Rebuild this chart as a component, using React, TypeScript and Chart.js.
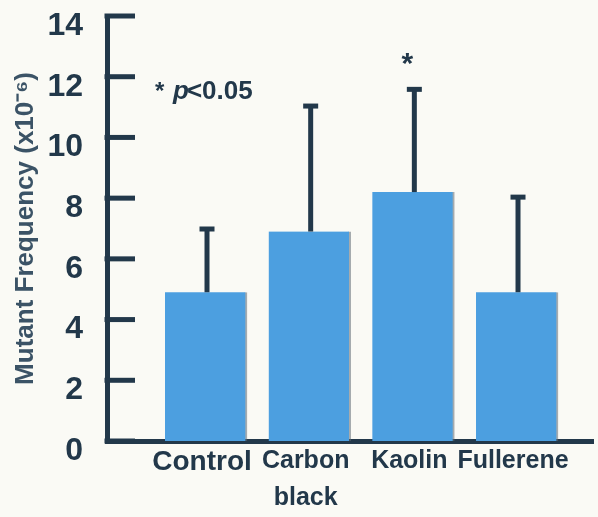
import React, { useEffect, useRef } from "react";
import { Chart, registerables } from "chart.js";

Chart.register(...registerables);

// ---- data ----
const categories = ["Control", "Carbon black", "Kaolin", "Fullerene"];
const tickLabelLines = [["Control"], ["Carbon", "black"], ["Kaolin"], ["Fullerene"]];
const meanValues = [4.9, 6.9, 8.2, 4.9];
const sdValues = [2.1, 4.15, 3.4, 3.15];
const significant = [false, false, true, false];
const yTicks = [0, 2, 4, 6, 8, 10, 12, 14];
const yTitle = "Mutant Frequency (x10\u207B\u2076)";
const noteStar = "*";
const noteP = "p";
const noteRest = "<0.05";

const FONT = "'Liberation Sans', Arial, Helvetica, sans-serif";
const INK = "#22384a";
const BAR = "#4c9fe0";
const BG = "#fafaf5";

export default function App() {
  const ref = useRef<HTMLCanvasElement | null>(null);

  useEffect(() => {
    document.body.style.margin = "0";
    document.body.style.background = BG;
    const canvas = ref.current;
    if (!canvas) return;

    const bgPlugin = {
      id: "bg",
      beforeDraw(chart: any) {
        const { ctx, width, height } = chart;
        ctx.save();
        ctx.fillStyle = BG;
        ctx.fillRect(0, 0, width, height);
        ctx.restore();
      },
    };

    const innerTicks = {
      id: "innerTicks",
      afterDraw(chart: any) {
        const { ctx, chartArea } = chart;
        const ys = chart.scales.y;
        ctx.save();
        ctx.strokeStyle = INK;
        ctx.lineWidth = 5;
        yTicks.forEach((v) => {
          const py = ys.getPixelForValue(v);
          ctx.beginPath();
          ctx.moveTo(chartArea.left - 2.5, py);
          ctx.lineTo(chartArea.left + 28, py);
          ctx.stroke();
        });
        ctx.restore();
      },
    };

    const errorBars = {
      id: "errorBars",
      afterDatasetsDraw(chart: any) {
        const { ctx } = chart;
        const ys = chart.scales.y;
        const meta = chart.getDatasetMeta(0);
        ctx.save();
        ctx.strokeStyle = INK;
        ctx.fillStyle = INK;
        meta.data.forEach((bar: any, i: number) => {
          const x = bar.x + 1;
          const yBase = bar.y;
          const yTop = ys.getPixelForValue(meanValues[i] + sdValues[i]);
          ctx.lineWidth = 5;
          ctx.beginPath();
          ctx.moveTo(x, yBase);
          ctx.lineTo(x, yTop);
          ctx.stroke();
          ctx.fillRect(x - 7.5, yTop - 2, 15, 5);
          if (significant[i]) {
            ctx.font = `bold 30px ${FONT}`;
            ctx.textAlign = "center";
            ctx.textBaseline = "alphabetic";
            ctx.fillText("*", x - 7, yTop - 16);
          }
        });
        ctx.restore();
      },
    };

    const note = {
      id: "note",
      afterDraw(chart: any) {
        const { ctx, chartArea } = chart;
        const ys = chart.scales.y;
        const y = ys.getPixelForValue(11.25);
        let x = chartArea.left + 48;
        ctx.save();
        ctx.fillStyle = INK;
        ctx.textAlign = "left";
        ctx.textBaseline = "alphabetic";
        ctx.font = `bold 24px ${FONT}`;
        ctx.fillText(noteStar, x, y);
        x += 18;
        ctx.font = `italic bold 26px ${FONT}`;
        ctx.fillText(noteP, x, y);
        x += ctx.measureText(noteP).width - 2;
        ctx.font = `bold 26px ${FONT}`;
        ctx.fillText(noteRest, x, y);
        ctx.restore();
      },
    };

    const chart = new Chart(canvas, {
      type: "bar",
      data: {
        datasets: [
          {
            label: "Mutant frequency",
            data: meanValues.map((v, i) => ({ x: i, y: v })),
            backgroundColor: BAR,
            borderColor: "rgba(95,105,115,0.55)",
            borderWidth: { top: 0, left: 0, bottom: 0, right: 2 },
            borderSkipped: false,
            barThickness: 82,
          },
        ],
      },
      options: {
        animation: false,
        responsive: false,
        layout: { padding: { top: 0, right: 5, left: 0, bottom: 0 } },
        plugins: { legend: { display: false }, tooltip: { enabled: false } },
        scales: {
          x: {
            type: "linear",
            offset: false,
            bounds: "ticks",
            min: -0.955,
            max: 3.733,
            afterBuildTicks: (scale: any) => {
              scale.ticks = categories.map((_, i) => ({ value: i }));
            },
            afterFit: (scale: any) => {
              scale.height = 76;
            },
            grid: { display: false, drawTicks: false, offset: false },
            border: { display: true, color: INK, width: 5 },
            ticks: {
              autoSkip: false,
              maxRotation: 0,
              padding: 2,
              labelOffset: -4,
              color: INK,
              callback: (_v: any, index: number) => tickLabelLines[index],
              font: (ctx: any) =>
                ctx.index === 0
                  ? { family: FONT, size: 28, weight: "bold", lineHeight: 1.36 }
                  : { family: FONT, size: 25, weight: "bold", lineHeight: 1.48 },
            },
          },
          y: {
            min: 0,
            max: 14,
            afterBuildTicks: (scale: any) => {
              scale.ticks = yTicks.map((v) => ({ value: v }));
            },
            afterFit: (scale: any) => {
              scale.width = 107;
            },
            grid: { display: false, drawTicks: true, tickLength: 24 },
            border: { display: true, color: INK, width: 5 },
            ticks: {
              padding: 0,
              labelOffset: 10,
              color: INK,
              font: { family: FONT, size: 32, weight: "bold", lineHeight: 1 },
            },
            title: {
              display: true,
              text: yTitle,
              color: "#3b5366",
              padding: { top: 10, bottom: 0 },
              font: { family: FONT, size: 26, weight: "bold" },
            },
          },
        },
      },
      plugins: [bgPlugin, errorBars, innerTicks, note],
    } as any);

    return () => chart.destroy();
  }, []);

  return (
    <div style={{ width: 598, height: 517 }}>
      <canvas ref={ref} width={598} height={517} />
    </div>
  );
}
